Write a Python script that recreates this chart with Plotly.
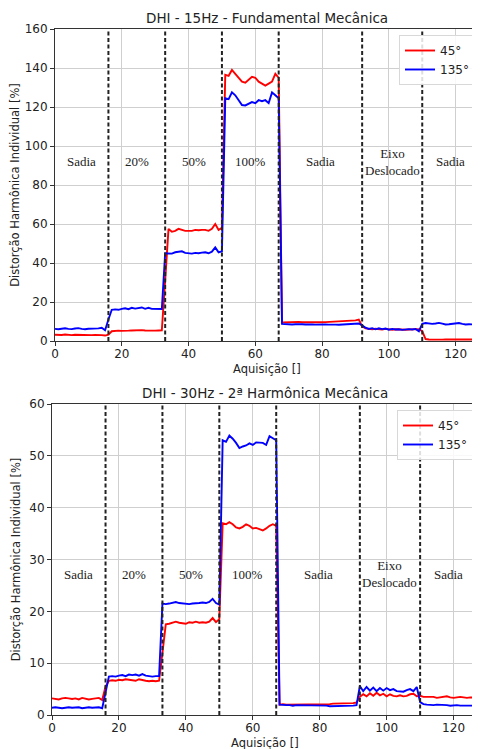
import plotly.graph_objects as go

# ---------------- data ----------------
acq = list(range(128))

top_45 = [3.2, 3.0, 3.1, 3.3, 3.1, 3.0, 3.2, 3.1, 3.0, 3.2, 3.1, 3.0, 3.1, 3.2, 3.0, 2.8,
          3.3,
          5.0, 5.2, 5.3, 5.2, 5.4, 5.3, 5.4, 5.5, 5.4, 5.6, 5.4, 5.3, 5.4, 5.3, 5.4, 5.5,
          31.0,
          57.5, 56.0, 56.5, 57.5, 57.0, 56.5, 56.5, 56.5, 57.0, 56.8, 57.0, 57.0, 56.5, 57.5, 60.0, 57.0,
          58.0,
          136.5, 136.0, 139.0, 137.0, 135.0, 133.0, 132.5, 134.0, 135.5, 135.0, 133.0, 132.0, 131.0, 132.0, 133.0, 137.0, 135.0,
          9.5, 9.6, 9.4, 9.5, 9.7, 9.8, 9.6, 9.5, 9.6, 9.7, 9.6, 9.5, 9.6, 9.7, 9.8, 9.8, 9.9, 10.0, 10.0, 10.1, 10.2, 10.3, 10.6, 11.0,
          7.5,
          6.5, 6.2, 6.0, 6.3, 6.1, 5.9, 6.2, 6.0, 5.8, 6.0, 5.9, 5.7, 5.8, 5.9, 6.0, 5.8, 6.1,
          5.0, 1.0,
          0.8, 0.7, 0.8, 0.8, 0.7, 0.8, 0.8, 0.7, 0.8, 0.8, 0.8, 0.7, 0.8, 0.8, 0.8, 0.8]

top_135 = [6.2, 6.0, 6.3, 6.5, 6.2, 6.1, 6.4, 6.6, 6.2, 6.0, 6.3, 6.4, 6.2, 6.5, 6.8, 5.5,
           11.0,
           16.0, 16.2, 16.0, 16.5, 16.8, 16.3, 17.0, 16.6, 16.9, 17.2, 16.5, 17.0, 16.5, 16.4, 16.3, 16.4,
           45.0,
           45.0, 44.8, 45.5, 45.8, 46.0, 45.2, 45.0, 44.8, 45.2, 45.0, 45.3, 45.5, 45.0, 45.8, 48.0, 45.5,
           46.0,
           124.5, 124.0, 127.5, 126.0, 123.5, 121.0, 120.8, 121.5, 122.5, 122.0, 123.5, 123.0, 123.5, 122.0, 127.5, 126.0, 124.5,
           8.8, 8.6, 8.7, 8.5, 8.6, 8.7, 8.6, 8.5, 8.6, 8.5, 8.4, 8.5, 8.6, 8.5, 8.4, 8.5, 8.4, 8.3, 8.4, 8.3, 8.4, 8.5, 8.6, 9.0,
           8.0,
           6.8, 6.2, 6.6, 6.0, 6.5, 6.1, 6.4, 5.8, 6.2, 5.9, 6.0, 5.7, 5.9, 6.1, 5.9, 6.2, 5.0,
           8.8, 9.2,
           9.0, 8.8, 9.0, 9.3, 8.9, 8.5, 8.6, 8.8, 9.0, 9.2, 8.8, 8.5, 8.6, 8.5, 8.4, 8.4]

bot_45 = [3.2, 3.1, 3.0, 3.2, 3.3, 3.2, 3.1, 3.2, 3.0, 3.3, 3.1, 3.0, 3.1, 3.2, 3.3, 2.9,
          5.5,
          6.6, 6.7, 6.6, 6.8, 6.7, 6.9, 6.8, 6.7, 6.6, 6.9, 6.7, 6.6, 6.5, 6.6, 6.5, 6.6,
          12.0,
          17.5, 17.6, 17.8, 18.0, 17.8, 17.7, 17.6, 17.9, 17.8, 18.0, 17.8, 17.9, 17.8, 18.0, 18.7, 17.9,
          18.5,
          37.0, 36.8, 37.2, 36.8, 36.2, 36.0, 36.3, 36.8, 36.5, 36.0, 36.1, 35.8, 35.6, 36.0, 36.5, 36.8, 36.5,
          2.0, 2.1, 2.0, 2.0, 2.1, 2.0, 2.0, 2.0, 2.1, 2.0, 2.0, 2.0, 2.1, 2.1, 2.1, 2.1, 2.2, 2.2, 2.2, 2.2, 2.3, 2.3, 2.3, 2.4,
          3.5,
          4.0, 3.6, 4.2, 3.7, 4.3, 3.8, 4.1, 3.6, 4.0, 3.7, 3.6, 3.8, 3.6, 3.7, 4.0, 4.1, 3.6,
          3.7, 3.5,
          3.5, 3.4, 3.5, 3.3, 3.4, 3.5, 3.6, 3.4, 3.3, 3.4, 3.5, 3.4, 3.3, 3.4, 3.3, 3.3]

bot_135 = [1.4, 1.5, 1.4, 1.3, 1.4, 1.5, 1.4, 1.4, 1.5, 1.3, 1.4, 1.5, 1.4, 1.4, 1.5, 1.3,
           4.5,
           7.4, 7.5, 7.4, 7.6, 7.7, 7.5, 7.8, 7.7, 7.8, 7.6, 7.9, 7.6, 7.5, 7.4, 7.5, 7.5,
           21.5,
           21.4, 21.5, 21.7, 21.8, 21.6, 21.5, 21.5, 21.4, 21.5, 21.5, 21.6, 21.7, 21.6, 21.8, 22.4, 21.6,
           21.3,
           53.0, 52.7, 53.9, 53.3, 52.5, 51.5, 51.8, 52.0, 52.4, 52.1, 52.6, 52.6, 52.5, 52.1, 53.8, 53.4, 53.0,
           2.0, 1.9, 1.9, 1.9, 1.8, 1.9, 1.9, 1.8, 1.8, 1.9, 1.8, 1.8, 1.8, 1.8, 1.8, 1.7, 1.7, 1.7, 1.8, 1.7, 1.7, 1.8, 1.8, 1.9,
           5.6,
           4.6, 5.4, 4.7, 5.3, 4.6, 5.2, 4.7, 5.2, 4.8, 5.0, 4.6, 4.6, 4.5, 4.8, 5.0, 4.6, 5.4,
           2.5, 2.1,
           2.0, 1.9, 1.9, 2.0, 2.0, 1.9, 1.9, 1.8, 1.9, 1.9, 1.8, 1.8, 1.8, 1.8, 1.8, 1.8]

boundaries = [16, 33, 50, 67, 92, 110]
region_x = [8, 24.5, 41.5, 58.5, 79.5, 101, 118.5]
region_labels = ["Sadia", "20%", "50%", "100%", "Sadia", "Eixo<br>Deslocado", "Sadia"]

series_names = ["45°", "135°"]
series_colors = ["#ff0000", "#0000ff"]

titles = ["DHI - 15Hz - Fundamental Mecânica", "DHI - 30Hz - 2ª Harmônica Mecânica"]
x_title = "Aquisição []"
y_title = "Distorção Harmônica Individual [%]"
y_ranges = [[0, 160], [0, 60]]
y_dtick = [20, 10]
label_y = [92, 27.2]

# ---------------- figure ----------------
FONT = "DejaVu Sans"
OFF = 8                      # page body margin of the html page
W, H = 480 - OFF, 749 - OFF  # figure size so the page fits the window
fig = go.Figure()

panels = [
    dict(xa="x", ya="y", data=[top_45, top_135], legend="legend"),
    dict(xa="x2", ya="y2", data=[bot_45, bot_135], legend="legend2"),
]

for p in panels:
    for name, col, vals in zip(series_names, series_colors, p["data"]):
        fig.add_trace(go.Scatter(
            x=acq, y=vals, mode="lines", name=name,
            line=dict(color=col, width=1.9),
            xaxis=p["xa"], yaxis=p["ya"], legend=p["legend"],
        ))

axis_common = dict(
    automargin=False,
    showgrid=True, gridcolor="#cfcfcf", gridwidth=1,
    showline=True, linecolor="#333333", linewidth=1, mirror=True,
    ticks="outside", ticklen=4, tickcolor="#333333",
    tickfont=dict(family=FONT, size=12, color="#222"),
    zeroline=False,
)


def px_x(p):
    return (p - OFF) / W


def px_y(p):
    return 1 - (p - OFF) / H


# pixel geometry (window coords) of the two plot areas (left, right, top, bottom)
top_box = (55, 479, 29, 341)
bot_box = (52, 477, 404, 715)


def dom(box):
    l, r, t, b = box
    return [px_x(l), min(px_x(r), 1.0)], [px_y(b), px_y(t)]


tx, ty = dom(top_box)
bx, by = dom(bot_box)

ytitle = dict(text=y_title, font=dict(family=FONT, size=11.5, color="#222"), standoff=6)

legend_common = dict(xanchor="right", yanchor="top",
                     bgcolor="rgba(255,255,255,0.85)", bordercolor="#d8d8d8", borderwidth=1,
                     font=dict(family=FONT, size=12, color="#222"), tracegroupgap=0, itemwidth=30)

fig.update_layout(
    template="none",
    width=W, height=H,
    margin=dict(l=0, r=0, t=0, b=0, autoexpand=False),
    paper_bgcolor="white", plot_bgcolor="white",
    showlegend=True,
    xaxis=dict(domain=tx, range=[0, 127], dtick=20, anchor="y", ticklabelstandoff=-2, **axis_common),
    yaxis=dict(domain=ty, range=y_ranges[0], dtick=y_dtick[0], anchor="x", title=ytitle, **axis_common),
    xaxis2=dict(domain=bx, range=[0, 127], dtick=20, anchor="y2", ticklabelstandoff=-2, **axis_common),
    yaxis2=dict(domain=by, range=y_ranges[1], dtick=y_dtick[1], anchor="x2", title=ytitle, **axis_common),
    legend=dict(x=px_x(475), y=px_y(35), **legend_common),
    legend2=dict(x=px_x(473), y=px_y(410), **legend_common),
)

# chart titles and x-axis titles
for t, ypx, xtpx, xd in zip(titles, [18, 393], [369, 743], [tx, bx]):
    xc = (xd[0] + xd[1]) / 2
    fig.add_annotation(text=t, x=xc, y=px_y(ypx), xref="paper", yref="paper",
                       showarrow=False, font=dict(family=FONT, size=13.5, color="#222"),
                       xanchor="center", yanchor="middle")
    fig.add_annotation(text=x_title, x=xc, y=px_y(xtpx), xref="paper", yref="paper",
                       showarrow=False, font=dict(family=FONT, size=11.5, color="#222"),
                       xanchor="center", yanchor="middle")

# dashed boundaries and region labels
for i, (xa, ya) in enumerate([("x", "y"), ("x2", "y2")]):
    for b in boundaries:
        fig.add_shape(type="line", x0=b, x1=b, y0=0, y1=1, xref=xa, yref=ya + " domain",
                      line=dict(color="#222222", width=2, dash="4px,2.5px"), layer="above")
    for rx, lab in zip(region_x, region_labels):
        fig.add_annotation(text=lab, x=rx, y=label_y[i], xref=xa, yref=ya, showarrow=False,
                           font=dict(family="Liberation Serif", size=13, color="#222"),
                           xanchor="center", yanchor="middle")

fig.write_html("out.html")
